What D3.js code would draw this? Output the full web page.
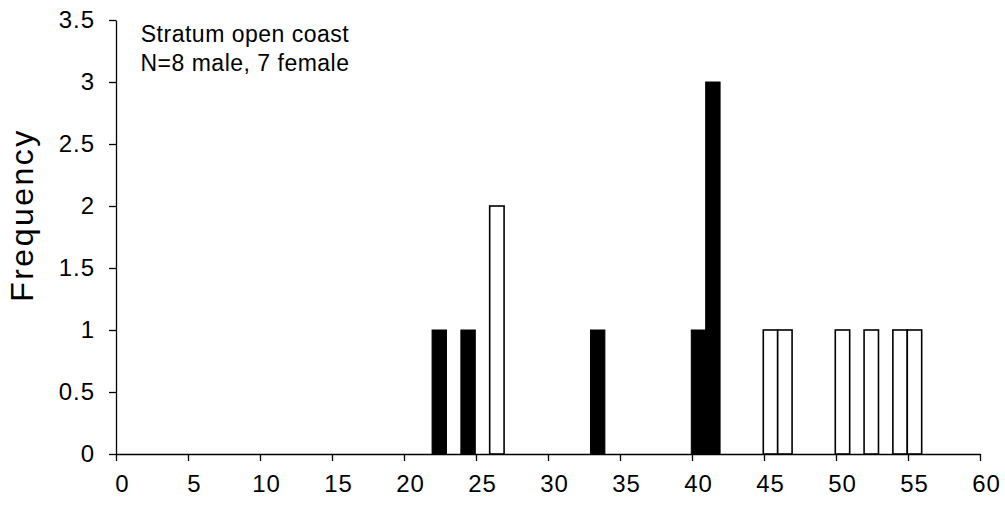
<!DOCTYPE html>
<html>
<head>
<meta charset="utf-8">
<script src="https://cdn.jsdelivr.net/npm/d3@7"></script>
<style>
  body { margin: 0; background: #fff; }
  text { font-family: "Liberation Sans", Arial, sans-serif; fill: #000; }
</style>
</head>
<body>
<svg id="chart"></svg>
<script>
// frequency per size bin (bin start value)
const maleBins = [22, 24, 33, 40, 41];
const maleCounts = [1, 1, 1, 1, 3];
const femaleBins = [26, 45, 46, 50, 52, 54, 55];
const femaleCounts = [2, 1, 1, 1, 1, 1, 1];
const xTicks = [0, 5, 10, 15, 20, 25, 30, 35, 40, 45, 50, 55, 60];
const yTicks = [0, 0.5, 1, 1.5, 2, 2.5, 3, 3.5];
const noteLines = ["Stratum open coast", "N=8 male, 7 female"];

const width = 1005, height = 510;
const margin = {top: 20, right: 25, bottom: 56, left: 116};

const svg = d3.select("#chart")
  .attr("width", width)
  .attr("height", height);

const x = d3.scaleLinear()
  .domain([0, 60])
  .range([margin.left, width - margin.right]);
const y = d3.scaleLinear()
  .domain([0, 3.5])
  .range([height - margin.bottom, margin.top]);

const binW = x(1) - x(0);

const male = maleBins.map((b, i) => ({bin: b, n: maleCounts[i]}));
const female = femaleBins.map((b, i) => ({bin: b, n: femaleCounts[i]}));

// axes
const xAxis = d3.axisBottom(x)
  .tickValues(xTicks)
  .tickSize(7)
  .tickSizeOuter(0)
  .tickFormat(d3.format("d"));
const gx = svg.append("g")
  .attr("transform", `translate(0,${y(0)})`)
  .call(xAxis);
gx.selectAll("text")
  .attr("dx", 6)
  .attr("y", 21)
  .style("font-size", "24px")
  .style("letter-spacing", "1px");

const yAxis = d3.axisLeft(y)
  .tickValues(yTicks)
  .tickSize(7)
  .tickSizeOuter(0)
  .tickFormat(d => d);
const gy = svg.append("g")
  .attr("transform", `translate(${x(0)},0)`)
  .call(yAxis);
gy.selectAll("text")
  .attr("x", -21)
  .style("font-size", "24px")
  .style("letter-spacing", "1px");

svg.selectAll(".domain, .tick line")
  .attr("stroke", "#000")
  .attr("stroke-width", 1.3);

// bars
svg.selectAll("rect.male")
  .data(male)
  .enter().append("rect")
  .attr("class", "male")
  .attr("x", d => x(d.bin - 0.05))
  .attr("width", binW)
  .attr("y", d => y(d.n))
  .attr("height", d => y(0) - y(d.n))
  .attr("fill", "#000")
  .attr("stroke", "#000")
  .attr("stroke-width", 1);

svg.selectAll("rect.female")
  .data(female)
  .enter().append("rect")
  .attr("class", "female")
  .attr("x", d => x(d.bin - 0.05))
  .attr("width", binW)
  .attr("y", d => y(d.n))
  .attr("height", d => y(0) - y(d.n))
  .attr("fill", "#fff")
  .attr("stroke", "#000")
  .attr("stroke-width", 1.6);

// y title
svg.append("text")
  .attr("transform", `translate(33,${(y(0) + y(3.5)) / 2 - 22}) rotate(-90)`)
  .attr("text-anchor", "middle")
  .style("font-size", "32px")
  .style("letter-spacing", "2.5px")
  .text("Frequency");

// note
svg.selectAll("text.note")
  .data(noteLines)
  .enter().append("text")
  .attr("class", "note")
  .attr("x", 245)
  .attr("y", (d, i) => 41.5 + i * 29.5)
  .attr("text-anchor", "middle")
  .style("font-size", "23px")
  .style("letter-spacing", "0.5px")
  .text(d => d);
</script>
</body>
</html>
